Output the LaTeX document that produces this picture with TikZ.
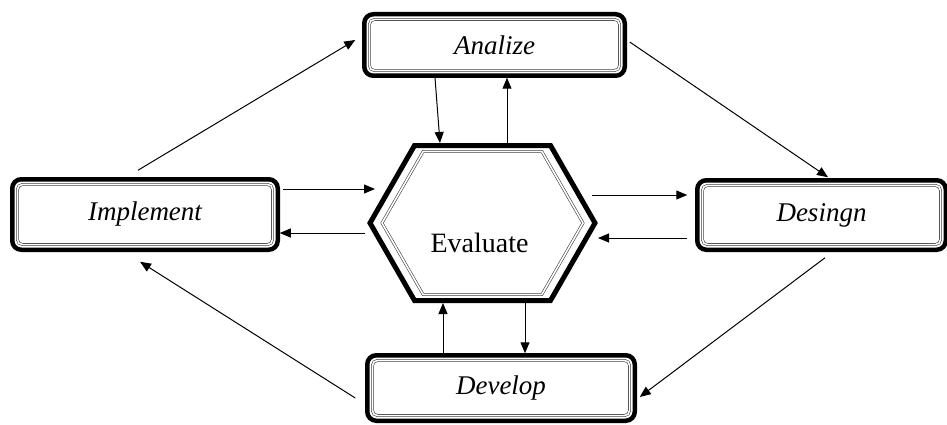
\documentclass[tikz,border=0pt]{standalone}
\usepackage{fontspec}
\setmainfont{Liberation Serif}
\usetikzlibrary{arrows.meta}
\tikzset{
  stage/.style={draw,line width=4.5pt,rounded corners=9pt,outer sep=0pt,font=\itshape\fontsize{27}{30}\selectfont},
  hub/.style={outer sep=0pt,minimum width=225pt,minimum height=155pt},
  hexline/.style={line width=5pt},
  inner/.style={draw=black!75,line width=0.6pt,double=white,double distance=1.6pt},
  flow/.style={-{Triangle[length=11pt,width=9pt]},line width=1pt}
}
\begin{document}
\begin{tikzpicture}[x=1pt,y=-1pt]
 \useasboundingbox (0,0) rectangle (947,425);
 \node[stage,minimum width=260.5pt,minimum height=61.5pt] (analize) at (494.5,45) {Analize};
 \node[stage,minimum width=265.5pt,minimum height=70.5pt] (implement) at (145,214.5) {Implement};
 \node[stage,minimum width=248.5pt,minimum height=69.5pt] (desingn) at (821.5,215) {Desingn};
 \node[stage,minimum width=267.5pt,minimum height=65.5pt] (develop) at (501,388) {Develop};
 \node[hub,label={[xshift=-3pt,yshift=-20pt,font=\fontsize{28}{30}\selectfont]center:Evaluate}] (eval) at (482.5,223) {};
 \draw[hexline,shift={(eval)}] (-112.5,0) -- (-68,-77.5) -- (68,-77.5) -- (112.5,0) -- (68,77.5) -- (-68,77.5) -- cycle;
 \draw[inner,shift={(eval)}] (-100.5,0) -- (-59.4,-71.5) -- (59.4,-71.5) -- (100.5,0) -- (59.4,71.5) -- (-59.4,71.5) -- cycle;
 \foreach \n in {analize,implement,desingn,develop}
 \draw[inner,rounded corners=5pt] ([xshift=5.2pt,yshift=-5.2pt]\n.north west) rectangle ([xshift=-5.2pt,yshift=5.2pt]\n.south east);
 \draw[flow] ([xshift=-7pt,yshift=9pt]implement.north) -- ([xshift=-9pt,yshift=5pt]analize.west);
 \draw[flow] ([xshift=5pt,yshift=3pt]analize.east) -- ([xshift=6.5pt,yshift=3pt]desingn.north);
 \draw[flow] ([xshift=3.5pt,yshift=-8pt]desingn.south) -- ([xshift=5pt,yshift=-9pt]develop.east);
 \draw[flow] ([xshift=-12pt,yshift=-10pt]develop.west) -- ([xshift=-5pt,yshift=-12pt]implement.south);
 \draw[flow] ([xshift=-59.5pt,yshift=-2pt]analize.south) -- ([xshift=-42.5pt,yshift=2.5pt]eval.north);
 \draw[flow] ([xshift=24.5pt]eval.north) -- ([xshift=12.5pt,yshift=-2pt]analize.south);
 \draw[flow] ([xshift=42.5pt]eval.south) -- ([xshift=24pt,yshift=2pt]develop.north);
 \draw[flow] ([xshift=-58pt]develop.north) -- ([xshift=-39.5pt,yshift=-2.5pt]eval.south);
 \draw[flow] ([xshift=5pt,yshift=25.5pt]implement.east) -- ([xshift=5pt,yshift=34pt]eval.west);
 \draw[flow] ([xshift=-5pt,yshift=-10pt]eval.west) -- ([xshift=2pt,yshift=-18.5pt]implement.east);
 \draw[flow] ([xshift=-3pt,yshift=28pt]eval.east) -- ([xshift=-10pt,yshift=20pt]desingn.west);
 \draw[flow] ([xshift=-10pt,yshift=-23pt]desingn.west) -- ([xshift=3pt,yshift=-15pt]eval.east);
\end{tikzpicture}
\end{document}
